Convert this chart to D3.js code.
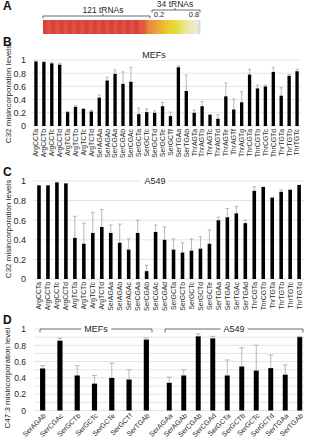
<!DOCTYPE html>
<html>
<head>
<meta charset="utf-8">
<script src="https://cdn.jsdelivr.net/npm/d3@7"></script>
<style>
  body { margin: 0; background: #fff; }
  svg { display: block; font-family: "Liberation Sans", Arial, sans-serif; }
</style>
</head>
<body>
<svg id="chart" width="309" height="440"></svg>
<script>
// tRNA counts in the colour bar of panel A
const groupCounts = [121, 34];
const groupLabels = ['121 tRNAs', '34 tRNAs'];
const bracketTicks = ['0.2', '0.8'];

// Panel B - MEFs, C32 misincorporation
const mefLabels = ['ArgCCTa','ArgCCTb','ArgCCTc','ArgCCTd','ArgTCTa','ArgTCTb','ArgTCTc','ArgTCTd',
  'SerAGAa','SerAGAb','SerCGAa','SerCGAb','SerCGAc','SerGCTa','SerGCTc','SerGCTd','SerGCTe','SerGCTf',
  'SerTGAa','SerTGAb','ThrAGTa','ThrAGTb','ThrAGTc','ThrAGTd','ThrAGTe','ThrAGTf','ThrAGTg',
  'ThrCGTa','ThrCGTb','ThrCGTc','ThrCGTd','ThrTGTa','ThrTGTb','ThrTGTc'];
const mefValues = [0.98,0.97,0.95,0.93,0.21,0.29,0.26,0.22,0.43,0.69,0.79,0.64,0.67,0.18,0.21,0.20,0.30,0.15,
  0.89,0.53,0.20,0.30,0.17,0.11,0.45,0.25,0.36,0.78,0.57,0.60,0.82,0.46,0.76,0.83];
const mefErrors = [0.005,0.005,0.01,0.02,0.01,0.015,0.005,0.02,0.04,0.05,0.06,0.18,0.22,0.09,0.05,0.03,0.06,0.06,
  0.02,0.24,0.04,0.07,0.005,0.06,0.20,0.16,0.16,0.08,0.05,0.02,0.07,0.12,0.02,0.03];

// Panel C - A549, C32 misincorporation
const a549Labels = ['ArgCCTa','ArgCCTb','ArgCCTc','ArgCCTd','ArgTCTa','ArgTCTb','ArgTCTc','ArgTCTd',
  'SerAGAa','SerAGAb','SerAGAc','SerCGAa','SerCGAb','SerCGAc','SerCGAd','SerGCTa','SerGCTb','SerGCTc',
  'SerGCTd','SerGCTe','SerTGAa','SerTGAb','SerTGAc','SerTGAd','ThrCGTa','ThrCGTb','ThrTGTa','ThrTGTb',
  'ThrTGTc','ThrTGTd'];
const a549Values = [0.956,0.956,0.986,0.976,0.42,0.36,0.47,0.53,0.47,0.37,0.30,0.47,0.08,0.48,0.40,0.30,0.27,0.29,
  0.31,0.36,0.60,0.63,0.67,0.57,0.90,0.94,0.83,0.89,0.91,0.96];
const a549Errors = [0,0,0,0,0.22,0.21,0.21,0.18,0.08,0.19,0.11,0.13,0.06,0.07,0.13,0.11,0.10,0.12,
  0.12,0.14,0.03,0.09,0.07,0.03,0.04,0,0.005,0.02,0.005,0];

// Panel D - C47:3 misincorporation
const dMefLabels = ['SerAGAb','SerCGAc','SerGCTb','SerGCTc','SerGCTe','SerGCTf','SerTGAb'];
const dMefValues = [0.516,0.857,0.43,0.33,0.40,0.38,0.87];
const dMefErrors = [0.035,0.03,0.12,0.10,0.18,0.12,0.02];
const dA549Labels = ['SerAGAa','SerAGAb','SerCGAb','SerCGAd','SerGCTa','SerGCTb','SerGCTc','SerGCTd','SerTGAa','SerTGAb'];
const dA549Values = [0.34,0.43,0.91,0.885,0.43,0.54,0.49,0.52,0.44,0.90];
const dA549Errors = [0.07,0.07,0.03,0.025,0.19,0.23,0.31,0.16,0.12,0.01];

const yTicks = [0, 0.2, 0.4, 0.6, 0.8, 1];

const svg = d3.select('#chart');
const gridColor = '#d9d9d9';
const errColor = '#a6a6a6';
const textColor = '#262626';

// panel letters
[['A', 10], ['B', 46], ['C', 176], ['D', 324]].forEach(([t, y]) => {
  svg.append('text').attr('x', 3).attr('y', y)
    .attr('font-size', 12).attr('font-weight', 'bold').attr('fill', '#111').text(t);
});

// ---- Panel A: colour bar
const total = d3.sum(groupCounts);
const barX = d3.scaleLinear().domain([0, groupCounts[0], total]).range([43, 151, 200]);
const barColor = d3.scaleLinear()
  .domain([0, 108, 124, 134, 138, 146, 153, 155])
  .range(['#da4238', '#da4238', '#ee9a35', '#e8cf2f', '#e5dc30', '#ece6a2', '#eeead6', '#d4d4d4']);
svg.append('g').selectAll('rect').data(d3.range(total)).join('rect')
  .attr('x', d => barX(d)).attr('y', 20)
  .attr('width', d => barX(d + 1) - barX(d) + 0.4).attr('height', 14)
  .attr('fill', d => barColor(d + 0.5));

function bracket(x0, x1, y, drop, notch) {
  const p = d3.path();
  p.moveTo(x0, y + drop); p.lineTo(x0, y); p.lineTo(x1, y); p.lineTo(x1, y + drop);
  if (notch != null) { p.moveTo(notch, y); p.lineTo(notch, y - 2); }
  svg.append('path').attr('d', p.toString()).attr('fill', 'none').attr('stroke', '#444').attr('stroke-width', 0.8);
}
bracket(barX(0), barX(groupCounts[0]) - 1, 16, 2.5, 103);
bracket(barX(groupCounts[0]) + 1, barX(total), 10, 2.5, 175);
svg.append('text').attr('x', 103).attr('y', 13).attr('text-anchor', 'middle')
  .attr('font-size', 8.5).attr('fill', textColor).text(groupLabels[0]);
svg.append('text').attr('x', 175).attr('y', 7).attr('text-anchor', 'middle')
  .attr('font-size', 8.5).attr('fill', textColor).text(groupLabels[1]);
svg.append('text').attr('x', 159).attr('y', 17).attr('text-anchor', 'middle')
  .attr('font-size', 7.5).attr('fill', textColor).text(bracketTicks[0]);
svg.append('text').attr('x', 194).attr('y', 17).attr('text-anchor', 'middle')
  .attr('font-size', 7.5).attr('fill', textColor).text(bracketTicks[1]);

// ---- generic bar panel
function drawBars(cfg) {
  const x = d3.scaleBand().domain(cfg.labels).range(cfg.xRange)
    .paddingInner(cfg.padding).paddingOuter(cfg.padding / 2);
  const g = svg.append('g');
  g.selectAll('rect.bar').data(cfg.values).join('rect')
    .attr('class', 'bar')
    .attr('x', (d, i) => x(cfg.labels[i]))
    .attr('width', x.bandwidth())
    .attr('y', d => cfg.y(d))
    .attr('height', d => cfg.y(0) - cfg.y(d))
    .attr('fill', '#000');
  const cx = i => x(cfg.labels[i]) + x.bandwidth() / 2;
  const errs = cfg.values.map((v, i) => ({ v, e: cfg.errors[i], i })).filter(d => d.e > 0);
  g.selectAll('line.err').data(errs).join('line')
    .attr('class', 'err')
    .attr('x1', d => cx(d.i)).attr('x2', d => cx(d.i))
    .attr('y1', d => cfg.y(d.v)).attr('y2', d => cfg.y(d.v + d.e))
    .attr('stroke', errColor).attr('stroke-width', 0.8);
  g.selectAll('line.cap').data(errs).join('line')
    .attr('class', 'cap')
    .attr('x1', d => cx(d.i) - cfg.cap).attr('x2', d => cx(d.i) + cfg.cap)
    .attr('y1', d => cfg.y(d.v + d.e)).attr('y2', d => cfg.y(d.v + d.e))
    .attr('stroke', errColor).attr('stroke-width', 0.8);
  // category labels
  const axis = d3.axisBottom(x).tickSize(0).tickPadding(0);
  const ax = g.append('g').attr('transform', `translate(0,${cfg.y(0)})`).call(axis);
  ax.select('.domain').remove();
  if (cfg.angle === -90) {
    ax.selectAll('text')
      .attr('transform', 'rotate(-90)')
      .attr('x', -3).attr('y', 0).attr('dy', '0.35em')
      .attr('text-anchor', 'end');
  } else {
    ax.selectAll('text')
      .attr('transform', 'translate(2,4) rotate(-45)')
      .attr('x', 0).attr('y', 0).attr('dy', '0.35em')
      .attr('text-anchor', 'end');
  }
  ax.selectAll('text').attr('font-size', cfg.labelSize).attr('fill', textColor)
    .attr('font-family', '"Liberation Sans", Arial, sans-serif');
}

function drawAxes(cfg) {
  const g = svg.append('g');
  g.selectAll('line.grid').data(cfg.grid).join('line')
    .attr('class', 'grid')
    .attr('x1', cfg.gx[0]).attr('x2', cfg.gx[1])
    .attr('y1', d => cfg.y(d)).attr('y2', d => cfg.y(d))
    .attr('stroke', gridColor).attr('stroke-width', 0.7);
  const yAxis = d3.axisLeft(cfg.y).tickValues(yTicks).tickSize(0).tickPadding(0)
    .tickFormat(d3.format('~g'));
  const ax = g.append('g').attr('transform', `translate(${cfg.tickX},0)`).call(yAxis);
  ax.select('.domain').remove();
  ax.selectAll('text').attr('font-size', cfg.tickSize).attr('fill', textColor)
    .attr('font-family', '"Liberation Sans", Arial, sans-serif');
  svg.append('text')
    .attr('transform', `translate(${cfg.labelX},${cfg.labelY}) rotate(-90)`)
    .attr('text-anchor', 'middle').attr('font-size', cfg.labelSize).attr('fill', textColor)
    .text(cfg.label);
}

function title(text, x, y) {
  const t = svg.append('text').attr('x', x).attr('y', y).attr('text-anchor', 'middle')
    .attr('font-size', 9).attr('fill', textColor).text(text);
  const bb = t.node().getBBox();
  svg.insert('rect', () => t.node()).attr('x', bb.x - 3).attr('y', bb.y)
    .attr('width', bb.width + 6).attr('height', bb.height).attr('fill', '#fff');
}

// ---- Panel B
const yB = d3.scaleLinear().domain([0, 1]).range([126, 60]);
drawAxes({ y: yB, grid: yTicks, gx: [32, 301], tickX: 26, tickSize: 9,
  label: 'C32 misincorporation levels', labelX: 11, labelY: 94, labelSize: 8 });
title('MEFs', 154, 58);
drawBars({ labels: mefLabels, values: mefValues, errors: mefErrors, y: yB,
  xRange: [32, 301], padding: 0.58, cap: 1.6, angle: -90, labelSize: 6.8 });

// ---- Panel C
const yC = d3.scaleLinear().domain([0, 1]).range([279, 181]);
drawAxes({ y: yC, grid: yTicks, gx: [33, 304], tickX: 26, tickSize: 9,
  label: 'C32 misincorporation levels', labelX: 11, labelY: 229, labelSize: 8 });
title('A549', 155, 184);
drawBars({ labels: a549Labels, values: a549Values, errors: a549Errors, y: yC,
  xRange: [34.5, 303.6], padding: 0.6, cap: 1.8, angle: -90, labelSize: 6.8 });

// ---- Panel D
const yD = d3.scaleLinear().domain([0, 1]).range([410.5, 329]);
drawAxes({ y: yD, grid: d3.range(0, 11).map(i => i / 10), gx: [34, 304], tickX: 26, tickSize: 8.5,
  label: 'C47:3 misincorporation level', labelX: 10, labelY: 378, labelSize: 8 });
drawBars({ labels: dMefLabels, values: dMefValues, errors: dMefErrors, y: yD,
  xRange: [34, 155], padding: 0.7, cap: 2.5, angle: -45, labelSize: 7 });
drawBars({ labels: dA549Labels, values: dA549Values, errors: dA549Errors, y: yD,
  xRange: [162, 307], padding: 0.66, cap: 2.5, angle: -45, labelSize: 7 });

// group brackets in D
function groupBracket(text, x0, x1, y) {
  svg.append('rect').attr('x', x0 - 1).attr('y', y - 1).attr('width', x1 - x0 + 2).attr('height', 2).attr('fill', '#fff');
  bracket(x0, x1, y, 3.5, null);
  title(text, (x0 + x1) / 2, y + 3);
}
groupBracket('MEFs', 40, 152, 329);
groupBracket('A549', 165, 303, 329);
</script>
</body>
</html>
